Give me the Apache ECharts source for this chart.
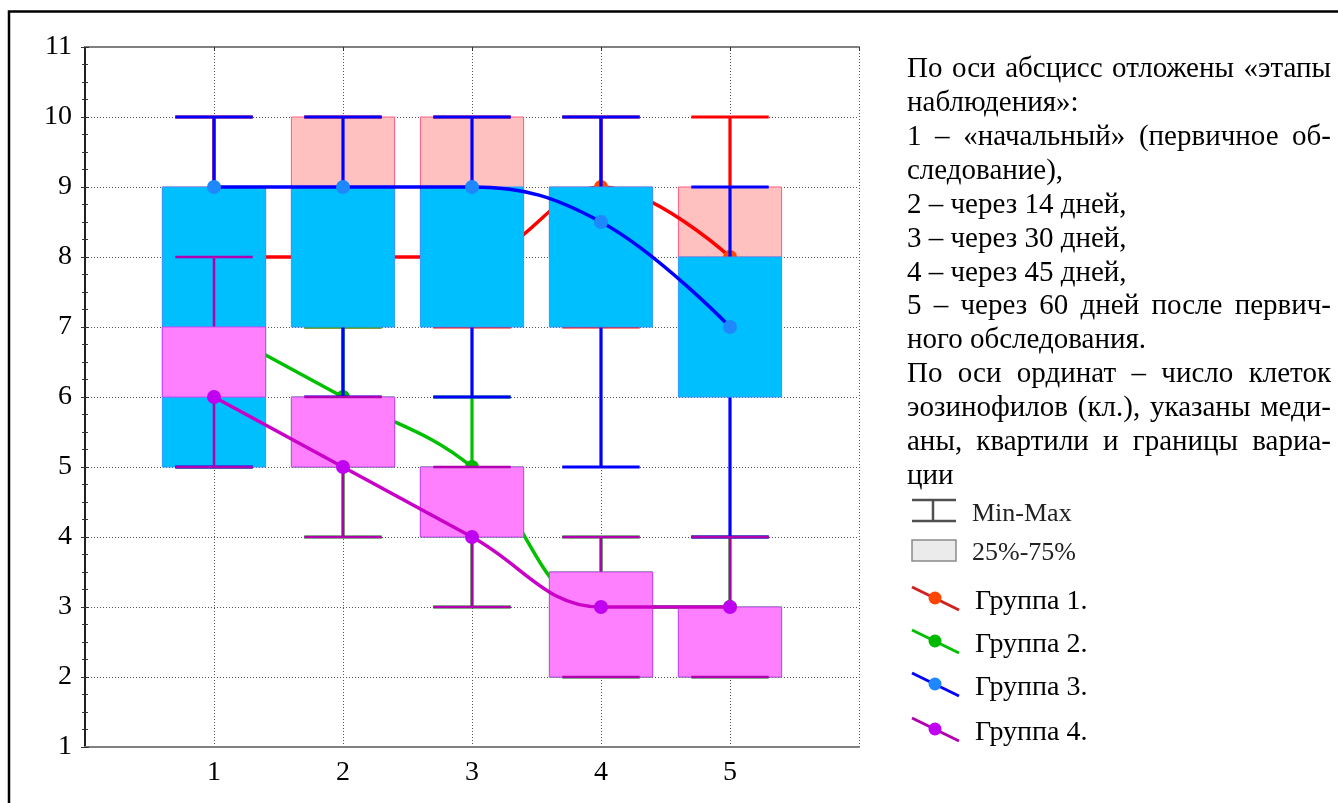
<!DOCTYPE html>
<html>
<head>
<meta charset="utf-8">
<script src="https://cdn.jsdelivr.net/npm/echarts@6/dist/echarts.min.js"></script>
<style>
  html, body { margin: 0; padding: 0; background: #fff; }
  #chart { width: 1338px; height: 803px; }
</style>
</head>
<body>
<div id="chart"></div>
<script>
// stages of observation (x axis)
const stages = [1, 2, 3, 4, 5];

// Группа 1
const g1Min = [6, 7, 7, 7, 7];
const g1Q1 = [7, 8, 8, 8, 8];
const g1Med = [8, 8, 8, 9, 8];
const g1Q3 = [9, 10, 10, 9, 9];
const g1Max = [10, 10, 10, 10, 10];

// Группа 2
const g2Min = [5, 4, 3, 2, 2];
const g2Q1 = [6, 5, 4, 2, 2];
const g2Med = [7, 6, 5, 3, 3];
const g2Q3 = [7, 6, 5, 3.5, 3];
const g2Max = [8, 7, 6, 4, 4];

// Группа 3
const g3Min = [5, 6, 6, 5, 4];
const g3Q1 = [5, 7, 7, 7, 6];
const g3Med = [9, 9, 9, 8.5, 7];
const g3Q3 = [9, 9, 9, 9, 8];
const g3Max = [10, 10, 10, 10, 9];

// Группа 4
const g4Min = [5, 4, 3, 2, 2];
const g4Q1 = [6, 5, 4, 2, 2];
const g4Med = [6, 5, 4, 3, 3];
const g4Q3 = [7, 6, 5, 3.5, 3];
const g4Max = [8, 6, 5, 4, 4];

const groupNames = ['Группа 1.', 'Группа 2.', 'Группа 3.', 'Группа 4.'];

const descLines = [
  ['По оси абсцисс отложены «этапы', true],
  ['наблюдения»:', false],
  ['1 – «начальный» (первичное об-', true],
  ['следование),', false],
  ['2 – через 14 дней,', false],
  ['3 – через 30 дней,', false],
  ['4 – через 45 дней,', false],
  ['5 – через 60 дней после первич-', true],
  ['ного обследования.', false],
  ['По оси ординат – число клеток', true],
  ['эозинофилов (кл.), указаны меди-', true],
  ['аны, квартили и границы вариа-', true],
  ['ции', false]
];

const SERIF = '"Liberation Serif", "Times New Roman", serif';

const groups = [
  { name: groupNames[0], stats: [g1Min, g1Q1, g1Med, g1Q3, g1Max],
    line: '#ff0000', marker: '#ff4500', boxFill: '#ffc0c0', boxStroke: '#ff5a80', whisker: '#ff0000', ww: 3.2 },
  { name: groupNames[1], stats: [g2Min, g2Q1, g2Med, g2Q3, g2Max],
    line: '#00c000', marker: '#00b800', boxFill: '#9ef09e', boxStroke: '#00c000', whisker: '#00c000', ww: 3.2 },
  { name: groupNames[2], stats: [g3Min, g3Q1, g3Med, g3Q3, g3Max],
    line: '#0000ff', marker: '#1e88ff', boxFill: '#00bfff', boxStroke: '#3399ff', whisker: '#0000ff', ww: 3.2 },
  { name: groupNames[3], stats: [g4Min, g4Q1, g4Med, g4Q3, g4Max],
    line: '#c800c8', marker: '#c000f0', boxFill: '#ff80ff', boxStroke: '#cc44ff', whisker: '#b000b0', ww: 2.6 }
];

function boxRenderer(g) {
  return function (params, api) {
    const x = api.value(0);
    const pMin = api.coord([x, api.value(1)]);
    const pQ1 = api.coord([x, api.value(2)]);
    const pQ3 = api.coord([x, api.value(4)]);
    const pMax = api.coord([x, api.value(5)]);
    const bw = api.size([0.8, 0])[0];
    const cw = api.size([0.6, 0])[0];
    const cx = pMin[0];
    return {
      type: 'group',
      children: [
        { type: 'line', shape: { x1: cx, y1: pMin[1], x2: cx, y2: pMax[1] },
          style: { stroke: g.whisker, lineWidth: g.ww } },
        { type: 'rect', shape: { x: cx - bw / 2, y: pQ3[1], width: bw, height: pQ1[1] - pQ3[1] },
          style: { fill: g.boxFill, stroke: g.boxStroke, lineWidth: 1 } },
        { type: 'line', shape: { x1: cx - cw / 2, y1: pMax[1], x2: cx + cw / 2, y2: pMax[1] },
          style: { stroke: g.whisker, lineWidth: g.ww } },
        { type: 'line', shape: { x1: cx - cw / 2, y1: pMin[1], x2: cx + cw / 2, y2: pMin[1] },
          style: { stroke: g.whisker, lineWidth: g.ww } }
      ]
    };
  };
}

const series = [];
groups.forEach((g, gi) => {
  const [mn, q1, md, q3, mx] = g.stats;
  series.push({
    type: 'custom',
    name: g.name + ' box',
    z: 1 + gi * 2,
    renderItem: boxRenderer(g),
    encode: { x: 0, y: [1, 2, 3, 4, 5] },
    data: stages.map((s, i) => [s, mn[i], q1[i], md[i], q3[i], mx[i]]),
    silent: true
  });
  series.push({
    type: 'line',
    name: g.name,
    z: 2 + gi * 2,
    smooth: 0.4,
    symbol: 'circle',
    symbolSize: 14,
    data: stages.map((s, i) => [s, md[i]]),
    lineStyle: { color: g.line, width: 3.5 },
    itemStyle: { color: g.marker },
    silent: true
  });
});

// description text, justified lines spread over the column
const measureCtx = document.createElement('canvas').getContext('2d');
const descFont = 29;
measureCtx.font = descFont + 'px ' + SERIF;
const textLeft = 907, textRight = 1331, textTop = 69.5, textStep = 33.9;
const graphics = [];
descLines.forEach(([line, justify], i) => {
  const y = textTop + i * textStep;
  if (!justify) {
    graphics.push({ type: 'text', x: textLeft, y: y,
      style: { text: line, fontSize: descFont, fontFamily: SERIF, fill: '#000', verticalAlign: 'middle' } });
    return;
  }
  const words = line.split(' ');
  const widths = words.map(w => measureCtx.measureText(w).width);
  const total = widths.reduce((a, b) => a + b, 0);
  const gap = (textRight - textLeft - total) / (words.length - 1);
  let x = textLeft;
  words.forEach((w, k) => {
    graphics.push({ type: 'text', x: x, y: y,
      style: { text: w, fontSize: descFont, fontFamily: SERIF, fill: '#000', verticalAlign: 'middle' } });
    x += widths[k] + gap;
  });
});

// legend: Min-Max and 25%-75%
graphics.push(
  { type: 'line', shape: { x1: 912, y1: 500, x2: 956, y2: 500 }, style: { stroke: '#505050', lineWidth: 2.5 } },
  { type: 'line', shape: { x1: 912, y1: 521, x2: 956, y2: 521 }, style: { stroke: '#505050', lineWidth: 2.5 } },
  { type: 'line', shape: { x1: 933, y1: 500, x2: 933, y2: 521 }, style: { stroke: '#505050', lineWidth: 2.5 } },
  { type: 'text', x: 972, y: 514, style: { text: 'Min-Max', fontSize: 26, fontFamily: SERIF, fill: '#222', verticalAlign: 'middle' } },
  { type: 'rect', shape: { x: 912, y: 540, width: 44, height: 21 }, style: { fill: '#ebebeb', stroke: '#8a8a8a', lineWidth: 1.5 } },
  { type: 'text', x: 972, y: 553, style: { text: '25%-75%', fontSize: 26, fontFamily: SERIF, fill: '#222', verticalAlign: 'middle' } }
);
const legendY = [598, 641, 684, 729];
const legendLine = ['#d02020', '#00c000', '#0000ff', '#b000b0'];
groups.forEach((g, gi) => {
  const cy = legendY[gi];
  graphics.push(
    { type: 'line', shape: { x1: 912, y1: cy - 11, x2: 959, y2: cy + 12 }, style: { stroke: legendLine[gi], lineWidth: 3 } },
    { type: 'circle', shape: { cx: 935, cy: cy, r: 6.5 }, style: { fill: g.marker } },
    { type: 'text', x: 975, y: cy + 4, style: { text: g.name, fontSize: 28, fontFamily: SERIF, fill: '#000', verticalAlign: 'middle' } }
  );
});

// outer frame of the figure
graphics.push({ type: 'polyline', shape: { points: [[9, 803], [9, 11.5], [1338, 11.5]] },
  style: { stroke: '#000', lineWidth: 2.5, fill: null } });

const chart = echarts.init(document.getElementById('chart'), null, { renderer: 'canvas' });
const gridDotted = { show: true, lineStyle: { color: '#555', width: 1, type: [1, 2] } };
chart.setOption({
  animation: false,
  backgroundColor: '#fff',
  grid: { left: 85, top: 47, width: 774, height: 700 },
  xAxis: [
    {
      type: 'value', min: 0, max: 6, interval: 1, position: 'bottom',
      axisLine: { lineStyle: { color: '#808080', width: 2 } },
      axisTick: { show: false },
      axisLabel: { fontSize: 28, fontFamily: SERIF, color: '#000', margin: 12,
        formatter: v => (v >= 1 && v <= 5 ? String(v) : '') },
      splitLine: gridDotted
    },
    {
      type: 'value', min: 0, max: 6, interval: 1, position: 'top',
      axisLine: { show: true, lineStyle: { color: '#808080', width: 2 } },
      axisTick: { show: true, inside: true, length: 4, lineStyle: { color: '#333' } },
      axisLabel: { show: false },
      splitLine: { show: false }
    }
  ],
  yAxis: [
    {
      type: 'value', min: 1, max: 11, interval: 1, position: 'left',
      axisLine: { show: true, lineStyle: { color: '#303030', width: 1.5 } },
      axisTick: { show: true, inside: true, length: 4, lineStyle: { color: '#333' } },
      minorTick: { show: true, splitNumber: 4, length: 3, lineStyle: { color: '#333' } },
      axisLabel: { fontSize: 28, fontFamily: SERIF, color: '#000', margin: 13 },
      splitLine: gridDotted
    },
    {
      type: 'value', min: 1, max: 11, interval: 1, position: 'right',
      axisLine: { show: true, lineStyle: { color: '#202020', width: 2 } },
      axisTick: { show: true, inside: true, length: 4, lineStyle: { color: '#333' } },
      minorTick: { show: true, splitNumber: 4, length: 3, lineStyle: { color: '#333' } },
      axisLabel: { show: false },
      splitLine: { show: false }
    }
  ],
  graphic: graphics,
  series: series
});
</script>
</body>
</html>
